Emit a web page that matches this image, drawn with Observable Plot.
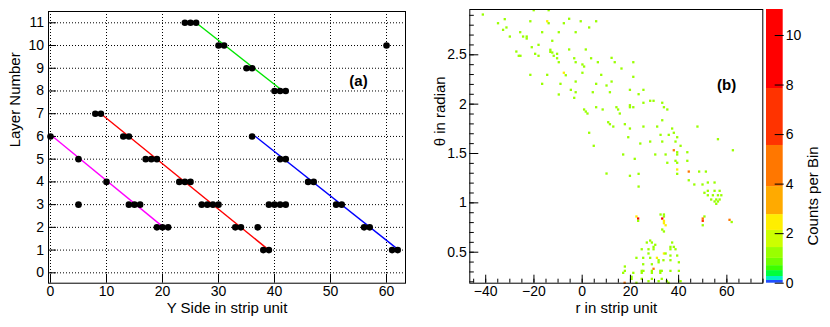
<!DOCTYPE html>
<html><head><meta charset="utf-8">
<script src="https://cdn.jsdelivr.net/npm/d3@7"></script>
<script src="https://cdn.jsdelivr.net/npm/@observablehq/plot@0.6"></script>
<style>
html,body{margin:0;padding:0;background:#fff;}
#wrap{position:relative;width:830px;height:327px;overflow:hidden;background:#fff;}
</style></head><body><div id="wrap"></div>
<script>
// ---------- Panel (a): hits per layer ----------
const hitX     = [24,25,26, 30,31,60, 35,36, 40,41,42, 8,9, 0,13,14,36, 5,17,18,19,41,42, 10,23,24,25,46,47,
                  5,14,15,16,27,28,29,30,39,40,41,42,51,52, 19,20,21,33,34,37,56,57, 38,39,61,62];
const hitLayer = [11,11,11, 10,10,10, 9,9, 8,8,8, 7,7, 6,6,6,6, 5,5,5,5,5,5, 4,4,4,4,4,4,
                  3,3,3,3,3,3,3,3,3,3,3,3,3,3, 2,2,2,2,2,2,2,2, 1,1,1,1];
const trackX1 = [0.4, 9, 26, 36.6];
const trackY1 = [6, 7, 11, 6];
const trackX2 = [20.2, 39, 41.5, 62.2];
const trackY2 = [2, 1, 8, 1];
const trackColor = ["#ff00ff", "#ff0000", "#00e600", "#0000ff"];
const xTicksA = [0, 10, 20, 30, 40, 50, 60];
const yTicksA = [0, 1, 2, 3, 4, 5, 6, 7, 8, 9, 10, 11];
const labelA = [{x: 55, y: 8.44, t: "(a)"}];

// ---------- Panel (b): Hough space ----------
const houghR = [
 -41.2,-20.1,-13.9,-32.1,-34.9,-21.5,-14.5,-13.9,-5.4,-7.6,
 -0.6,5.8,-31.4,-32.8,2.9,-25.7,-16.6,-9.7,-2.7,-30.0,
 -24.5,-23.0,-23.0,-12.4,-18.1,-20.9,-27.3,-13.2,-13.2,-12.4,
 -5.4,1.5,-19.5,-10.4,-26.3,-25.6,-18.1,-11.8,-10.4,-3.3,
 3.7,-9.7,-2.7,6.5,0.1,0.8,-7.6,-6.8,0.1,-21.5,
 -14.5,-16.6,-9.0,-2.7,5.8,-4.7,-2.7,4.4,-9.7,-3.3,
 12.2,13.5,21.2,16.3,7.9,21.2,10.1,12.2,11.5,19.8,
 25.4,23.4,28.2,29.6,25.4,33.2,19.8,19.8,21.2,33.9,
 35.3,5.8,8.5,14.2,14.9,15.6,0.8,1.5,2.2,33.2,
 10.8,11.5,12.9,17.7,19.8,25.4,31.1,37.3,47.8,2.9,
 38.0,32.5,35.9,19.1,39.4,4.8,56.3,24.1,28.2,33.2,
 38.7,40.8,38.0,39.4,39.4,43.6,62.5,17.0,30.3,34.6,
 21.8,38.7,39.4,35.3,43.6,39.4,39.4,44.2,48.5,51.3,
 23.4,19.8,10.1,44.2,46.5,49.9,52.1,54.9,23.4,52.1,
 54.9,57.0,50.7,52.1,54.2,56.3,57.7,53.5,55.6,57.0,
 54.9,56.3,55.6,22.5,23.2,23.2,32.5,33.9,33.9,33.2,
 33.9,33.9,34.6,33.2,33.9,50.7,50.0,50.0,50.0,61.1,
 62.0,28.2,28.9,26.8,30.3,29.6,29.6,24.7,27.5,37.3,
 36.6,36.6,38.0,38.7,27.5,22.5,25.3,28.2,31.0,33.9,
 34.6,36.6,39.4,31.7,31.7,33.7,36.6,40.1,25.3,28.9,
 17.7,17.7,17.0,21.2,24.7,24.7,25.4,29.6,28.9,28.9,
 32.4,32.4,33.0,36.6,40.1,20.5,20.5,24.7,27.5,28.9,
 31.7,33.0,35.1,40.8,17.6,22.5,35.8];
const houghTheta = [
 2.908,2.952,2.952,2.861,2.820,2.840,2.840,2.820,2.865,2.820,
 2.840,2.840,2.777,2.753,2.777,2.729,2.729,2.729,2.729,2.685,
 2.685,2.685,2.665,2.642,2.601,2.577,2.533,2.551,2.530,2.523,
 2.554,2.554,2.510,2.510,2.490,2.490,2.490,2.490,2.465,2.465,
 2.465,2.425,2.425,2.425,2.402,2.381,2.318,2.293,2.318,2.297,
 2.297,2.206,2.206,2.229,2.206,2.145,2.121,2.121,2.098,2.064,
 2.469,2.425,2.425,2.361,2.297,2.277,2.189,2.229,2.121,2.145,
 2.145,2.101,2.034,2.034,2.014,2.014,1.989,1.969,1.969,1.969,
 1.946,1.969,1.946,1.969,1.946,1.905,1.946,1.925,1.905,1.837,
 1.817,1.797,1.773,1.797,1.753,1.773,1.773,1.753,1.773,1.710,
 1.710,1.689,1.689,1.665,1.665,1.578,1.645,1.601,1.621,1.621,
 1.621,1.578,1.533,1.513,1.490,1.513,1.533,1.490,1.490,1.490,
 1.446,1.426,1.406,1.406,1.426,1.338,1.294,1.317,1.317,1.317,
 1.294,1.274,1.297,1.229,1.186,1.186,1.206,1.206,1.165,1.122,
 1.122,1.122,1.102,1.077,1.077,1.077,1.077,1.034,1.034,1.034,
 1.014,1.014,0.990,0.862,0.841,0.818,0.882,0.882,0.862,0.841,
 0.818,0.794,0.773,0.730,0.710,0.862,0.841,0.818,0.773,0.828,
 0.806,0.618,0.598,0.598,0.575,0.554,0.530,0.530,0.530,0.598,
 0.554,0.530,0.554,0.530,0.487,0.443,0.443,0.443,0.443,0.487,
 0.487,0.466,0.466,0.419,0.398,0.419,0.419,0.398,0.378,0.378,
 0.355,0.311,0.291,0.291,0.311,0.291,0.311,0.332,0.311,0.291,
 0.311,0.291,0.311,0.311,0.311,0.251,0.230,0.230,0.206,0.230,
 0.206,0.230,0.206,0.206,0.190,0.190,0.190];
const houghCount = [
 1,1,1,1,1,1,2.5,1,1,1,
 1,1,1,1,1,1,1,1,1,1,
 1,1,1,1,1,1,1,1,1,1,
 1,1,1,1,1,1,1,1,1,1,
 1,1,1,1,1,1,2.5,1,1,1,
 1,1,1,1,1,1,1,1,1,1,
 1,1,1,1,1,1,1,1,1,1,
 1,1,1,1,1,1,1,1,1,1,
 1,1,1,1,1,1,1,1,1,1,
 1,1,1,1,1,1,1,1,1,1,
 1,1,1,1,1,1,1,1,1,1,
 1,1,4.5,1,1,1,1,1,1,1,
 1,1,1,1,1,2.5,1,4.5,1,1,
 1,1,1,1,1,1,1,1,1,1,
 1,1,1,1,1,1,1,1,1,1,
 1,1,1,2.5,9,1,1,1,1,10.5,
 2.5,2.5,2.5,1,1,1,4.5,6,1,4.5,
 1,1,1,1,1,1,1,1,1,1,
 1,1,1,1,1,1,1,1,2.5,2.5,
 1,1,1,1,1,1,1,1,1,1,
 1,1,1,1,1,1,1,4.5,1,1,
 1,1,1,1,1,1,1,1,1,1,
 1,1,1,1,4.5,1,1];
const xMajorB = [-40, -20, 0, 20, 40, 60];
const yMajorB = [0.5, 1, 1.5, 2, 2.5];
const yMajorLabels = ["0.5", "1", "1.5", "2", "2.5"];
const labelB = [{x: 59.9, y: 2.19, t: "(b)"}];

// ---------- Colour palette (z axis) ----------
const bandLo = [0, 0.11, 0.27, 0.51, 0.71, 1.0, 1.44, 2.13, 2.77, 3.9, 5.56, 7.86];
const bandHi = [0.11, 0.27, 0.51, 0.71, 1.0, 1.44, 2.13, 2.77, 3.9, 5.56, 7.86, 11.05];
const bandColor = ["#1f4fff", "#00f0c8", "#00ff3c", "#3cff00", "#70ff00", "#99ff00",
                   "#ccff00", "#ffee00", "#ffaa00", "#ff7700", "#ff3300", "#ff0000"];
const zTicks = [0, 2, 4, 6, 8, 10];

// ---------- build ----------
const FONT = '"Liberation Sans", Arial, Helvetica, sans-serif';
const baseStyle = {background: "transparent", color: "black", fontFamily: FONT, fontSize: "14px", overflow: "visible"};
const colorScale = {type: "threshold", domain: bandLo.slice(1), range: bandColor};
const dotted = {stroke: "black", strokeOpacity: 1, strokeWidth: 1, strokeDasharray: "1,2"};
const minus = d3.format("");

const hits = hitX.map((x, i) => ({x, layer: hitLayer[i]}));
const tracks = trackX1.map((x1, i) => ({x1, y1: trackY1[i], x2: trackX2[i], y2: trackY2[i], c: trackColor[i]}));
const hough = houghR.map((r, i) => ({r, th: houghTheta[i], n: houghCount[i]}));
const bands = bandLo.map((lo, i) => ({lo, hi: bandHi[i], mid: (lo + bandHi[i]) / 2}));

const left = Plot.plot({
  width: 415, height: 327, marginLeft: 48, marginRight: 10, marginTop: 11, marginBottom: 44.3,
  style: baseStyle,
  x: {domain: [-0.357, 63.39], label: null},
  y: {domain: [-0.457, 11.497], label: null},
  color: {type: "identity"},
  marks: [
    Plot.gridX(xTicksA, dotted),
    Plot.gridY(yTicksA, dotted),
    Plot.link(tracks, {x1: "x1", y1: "y1", x2: "x2", y2: "y2", stroke: "c", strokeWidth: 1.4}),
    Plot.dot(hits, {x: "x", y: "layer", r: 3.3, fill: "black"}),
    Plot.frame({stroke: "black", strokeWidth: 1}),
    Plot.axisX(xTicksA, {tickSize: -9, fill: "none", label: null}),
    Plot.axisX(xTicksA, {tickSize: 0, tickPadding: 2.5, stroke: "none", label: null}),
    Plot.axisY(yTicksA, {tickSize: -8, fill: "none", label: null}),
    Plot.axisY(yTicksA, {tickSize: 0, tickPadding: 4.5, stroke: "none", label: null}),
    Plot.text(["Y Side in strip unit"], {text: d => d, frameAnchor: "bottom", lineAnchor: "top", dy: 19, fontSize: 15}),
    Plot.text(["Layer Number"], {text: d => d, frameAnchor: "left", rotate: -90, dx: -33.8, fontSize: 15}),
    Plot.text(labelA, {x: "x", y: "y", text: "t", fontWeight: "bold", fontSize: 15})
  ]
});

const right = Plot.plot({
  width: 350, height: 327, marginLeft: 54.3, marginRight: 2.7, marginTop: 9, marginBottom: 44.3,
  style: baseStyle,
  x: {domain: [-46.6, 74.9], label: null},
  y: {domain: [0.186, 2.959], label: null},
  color: colorScale,
  marks: [
    Plot.dot(hough, {x: "r", y: "th", fill: "n", symbol: "square", r: 1.3}),
    Plot.frame({stroke: "black", strokeWidth: 1}),
    Plot.axisX(d3.range(-45, 76, 5), {tickSize: -4, fill: "none", label: null}),
    Plot.axisX(xMajorB, {tickSize: -8, fill: "none", label: null}),
    Plot.axisX(xMajorB, {tickSize: 0, tickPadding: 3, stroke: "none", tickFormat: minus, label: null}),
    Plot.axisY(d3.range(2, 30).map(v => v / 10), {tickSize: -4.5, fill: "none", label: null}),
    Plot.axisY(yMajorB, {tickSize: -9, fill: "none", label: null}),
    Plot.axisY(yMajorB, {tickSize: 0, tickPadding: 3, stroke: "none", label: null,
                         tickFormat: (d, i) => yMajorLabels[yMajorB.indexOf(d)]}),
    Plot.text(["r in strip unit"], {text: d => d, frameAnchor: "bottom", lineAnchor: "top", dy: 19, fontSize: 15}),
    Plot.text(["θ in radian"], {text: d => d, frameAnchor: "left", rotate: -90, dx: -29.6, fontSize: 15}),
    Plot.text(labelB, {x: "x", y: "y", text: "t", fontWeight: "bold", fontSize: 15})
  ]
});

const bar = Plot.plot({
  width: 66, height: 327, marginLeft: 2, marginRight: 47.3, marginTop: 9, marginBottom: 44.3,
  style: baseStyle,
  x: {domain: [0, 1], axis: null},
  y: {domain: [0, 11.05], label: null},
  color: colorScale,
  marks: [
    Plot.rect(bands, {x1: 0, x2: 1, y1: "lo", y2: "hi", fill: "mid"}),
    Plot.axisY(zTicks, {anchor: "right", tickSize: -9, fill: "none", label: null}),
    Plot.axisY(zTicks, {anchor: "right", tickSize: 0, tickPadding: 2.5, stroke: "none", label: null}),
    Plot.text(["Counts per Bin"], {text: d => d, frameAnchor: "right", rotate: -90, dx: 29.9, fontSize: 15})
  ]
});

const wrap = document.getElementById("wrap");
[[left, 0], [right, 415], [bar, 764]].forEach(([el, x]) => {
  el.style.position = "absolute";
  el.style.left = x + "px";
  el.style.top = "0px";
  wrap.appendChild(el);
});
</script>
</body></html>
